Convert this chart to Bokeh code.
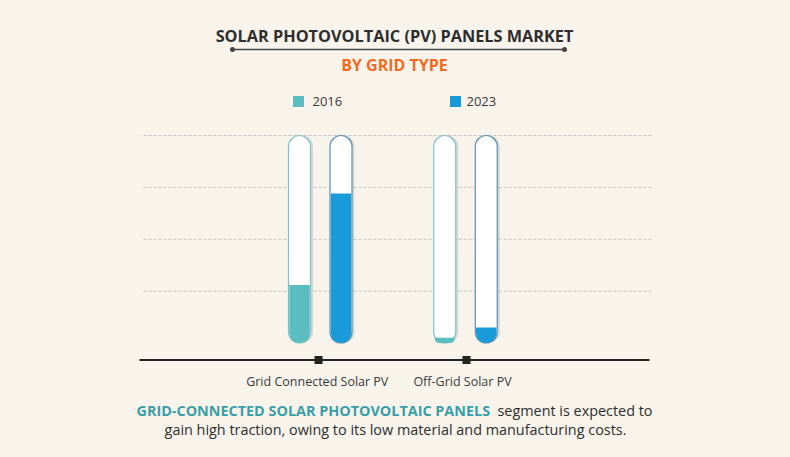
from bokeh.plotting import figure
from bokeh.models import Range1d, ColumnDataSource
from bokeh.transform import dodge
from bokeh.core.properties import value
from bokeh.embed import file_html
from bokeh.resources import INLINE
from jinja2 import Template

# ---------------- data ----------------
categories = ["Grid Connected Solar PV", "Off-Grid Solar PV"]
years = ["2016", "2023"]
share_2016 = [28, 2.5]
share_2023 = [72, 7.5]
scale_max = 100
grid_values = [25, 50, 75, 100]

title = "SOLAR PHOTOVOLTAIC (PV) PANELS MARKET"
subtitle = "BY GRID TYPE"
note_bold = "GRID-CONNECTED SOLAR PHOTOVOLTAIC PANELS"
note_rest = "segment is expected to"
note_line2 = "gain high traction, owing to its low material and manufacturing costs."

# ---------------- style ----------------
BG = "#f8f4eb"
TEAL = "#5bbdbf"
BLUE = "#189bd8"
TEAL_EDGE = "#7fc4c4"
BLUE_EDGE = "#5a8fb2"
DARK = "#2e2e2e"
ORANGE = "#f26a21"
NOTE_TEAL = "#3a9ea6"
FONT = value("Open Sans")

W, H = 790, 457
# reference-pixel -> data helpers
PX_PER_X = 145.25
PX_PER_Y = 2.075
X0_PX = 319.75
Y0_PX = 342.5
def rx(px):
    return (px - X0_PX) / PX_PER_X
def ry(py):
    return (Y0_PX - py) / PX_PER_Y

p = figure(width=W, height=H, output_backend="svg", toolbar_location=None,
           x_range=Range1d(rx(0), rx(W)), y_range=Range1d(ry(H), ry(0)),
           min_border=0, background_fill_color=BG, border_fill_color=BG,
           outline_line_color=None)
p.axis.visible = False
p.grid.visible = False

xs = list(range(len(categories)))
src = ColumnDataSource(dict(x=xs, cat=categories, v16=share_2016, v23=share_2023,
                            full=[scale_max] * len(xs), zero=[0] * len(xs)))

bw = 22 / PX_PER_X
off = 20.75 / PX_PER_X
rad = 11

# gridlines
for g in grid_values:
    p.line([rx(143), rx(652)], [g, g], line_color="#c4c4c4", line_width=1, line_dash="3 2")

# shadows
for o in (-off, off):
    p.vbar(x=dodge("x", o + 2.5 / PX_PER_X), top="full", bottom="zero", width=bw, source=src,
           fill_color="#9aa3a8", fill_alpha=0.35, line_color=None, border_radius=rad)

# capsules
for o, edge in ((-off, TEAL_EDGE), (off, BLUE_EDGE)):
    p.vbar(x=dodge("x", o), top="full", bottom="zero", width=bw, source=src,
           fill_color="white", line_color=edge, line_width=1.2, border_radius=rad)

# fills
p.vbar(x=dodge("x", -off), top="v16", bottom="zero", width=bw - 1.5 / PX_PER_X, source=src,
       fill_color=TEAL, line_color=None, border_radius=(0, 0, rad, rad))
p.vbar(x=dodge("x", off), top="v23", bottom="zero", width=bw - 1.5 / PX_PER_X, source=src,
       fill_color=BLUE, line_color=None, border_radius=(0, 0, rad, rad))

# baseline + ticks
base_y = ry(359.5)
p.line([rx(139), rx(649)], [base_y, base_y], line_color="#222222", line_width=2.2)
p.scatter(x=[rx(318), rx(466)], y=[base_y] * len(xs), marker="square", size=8,
          fill_color="#222222", line_color=None)

# category labels
p.text(x=dodge("x", -3 / PX_PER_X), y=ry(381), text="cat", source=src, text_font=FONT,
       text_font_size="12.5px", text_color="#3a3a3a", text_align="center",
       text_baseline="middle")

# legend
leg_x = [rx(298), rx(455)]
p.scatter(x=leg_x, y=[ry(101)] * 2, marker="square", size=11, fill_color=[TEAL, BLUE],
          line_color=None)
p.text(x=[rx(312), rx(466)], y=[ry(101)] * 2, text=years, text_font=FONT,
       text_font_size="13px", text_color="#3a3a3a", text_align="left", text_baseline="middle")

# titles
p.text(x=[rx(394)], y=[ry(35)], text=[title], text_font=FONT, text_font_style="bold",
       text_font_size="16.3px", text_color=DARK, text_align="center", text_baseline="middle")
p.line([rx(232), rx(564)], [ry(49), ry(49)], line_color="#444444", line_width=1.5)
p.scatter(x=[rx(232), rx(564)], y=[ry(49)] * 2, size=5, fill_color="#444444", line_color=None)
p.text(x=[rx(394)], y=[ry(64)], text=[subtitle], text_font=FONT, text_font_style="bold",
       text_font_size="16px", text_color=ORANGE, text_align="center", text_baseline="middle")

# bottom note
p.text(x=[rx(136)], y=[ry(410)], text=[note_bold], text_font=FONT, text_font_style="bold",
       text_font_size="14.4px", text_color=NOTE_TEAL, text_align="left", text_baseline="middle")
p.text(x=[rx(497)], y=[ry(410)], text=[note_rest], text_font=FONT,
       text_font_size="14.4px", text_color=DARK, text_align="left", text_baseline="middle")
p.text(x=[rx(395)], y=[ry(429)], text=[note_line2], text_font=FONT,
       text_font_size="14.4px", text_color=DARK, text_align="center", text_baseline="middle")

template = Template("""{% extends base %}
{% block preamble %}<style>body { background: #f8f4eb; }</style>{% endblock %}""")

open("out.html", "w").write(file_html(p, INLINE, template=template))
